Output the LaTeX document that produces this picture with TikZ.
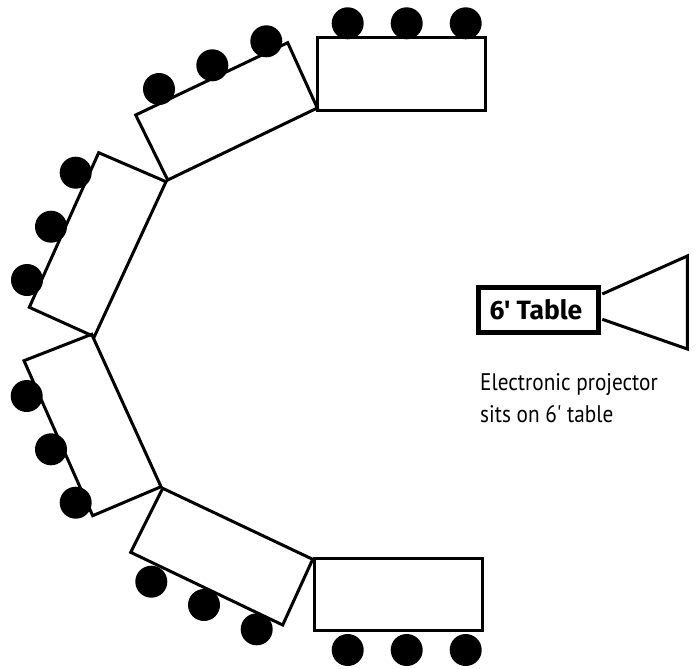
\documentclass[tikz,border=0pt]{standalone}
\usepackage{fontspec}
\newfontfamily\labelfont[FakeStretch=0.885]{PT Sans}
\newfontfamily\tablefont{Fira Sans}
\tikzset{
    chair/.style={circle, draw=none, fill=black, minimum size=32pt, inner sep=0pt},
    longtable/.style={draw=black, line width=3pt, line join=miter},
}
\begin{document}
\begin{tikzpicture}[x=1pt, y=-1pt]
    \useasboundingbox (0, 0) rectangle (699, 669);

    % Draw chairs along the top table
    \node[chair] (t1) at (347.7, 23.3) {};
    \node[chair] (t2) at (406.7, 23.3) {};
    \node[chair] (t3) at (465.7, 23.3) {};
    % Draw chairs along the upper tilted table
    \node[chair] (u1) at (159, 89) {};
    \node[chair] (u2) at (212.3, 65.3) {};
    \node[chair] (u3) at (266.3, 41.3) {};
    % Draw chairs along the two left tables
    \node[chair] (m1) at (75.7, 172.7) {};
    \node[chair] (m2) at (51, 226.7) {};
    \node[chair] (m3) at (27, 280) {};
    \node[chair] (n1) at (26.7, 396) {};
    \node[chair] (n2) at (51, 449.3) {};
    \node[chair] (n3) at (75.7, 502.7) {};
    % Draw chairs along the lower tilted table
    \node[chair] (l1) at (151.3, 581.7) {};
    \node[chair] (l2) at (204, 605) {};
    \node[chair] (l3) at (256.7, 629.3) {};
    % Draw chairs along the bottom table
    \node[chair] (b1) at (347.7, 650) {};
    \node[chair] (b2) at (406.7, 650) {};
    \node[chair] (b3) at (465.7, 650) {};

    % Draw all tables
    \draw[longtable] (317.3, 38) rectangle (485.7, 110);
    \draw[longtable] (135.7, 115) -- (287.7, 42.7) -- (317.3, 108) -- (167.7, 180) -- cycle;
    \draw[longtable] (98.7, 152.7) -- (166, 181.7) -- (94.3, 336.7) -- (29.3, 307.3) -- cycle;
    \draw[longtable] (24, 360.7) -- (91.7, 334.3) -- (161, 486.7) -- (92.7, 515.7) -- cycle;
    \draw[longtable] (162.7, 488.3) -- (312.7, 559.3) -- (282.7, 625) -- (130.7, 552.3) -- cycle;
    \draw[longtable] (314.3, 558.3) rectangle (482.7, 630.3);

    % Draw projector on its table
    \draw[longtable] (602.3, 294) -- (687.3, 256) -- (687.3, 349) -- (602.3, 319.3);
    \node[draw, line width=5.3pt, minimum width=120pt, minimum height=45.5pt, inner sep=0pt,
        font=\tablefont\bfseries\fontsize{26.5}{26.5}\selectfont] (table6) at (538.5, 310) {\kern-5pt 6' Table};

    \node[anchor=north west, inner sep=0pt, align=left,
        font=\labelfont\fontsize{24}{32}\selectfont] (note) at (480, 373) {Electronic projector\\sits on 6' table};
\end{tikzpicture}
\end{document}
